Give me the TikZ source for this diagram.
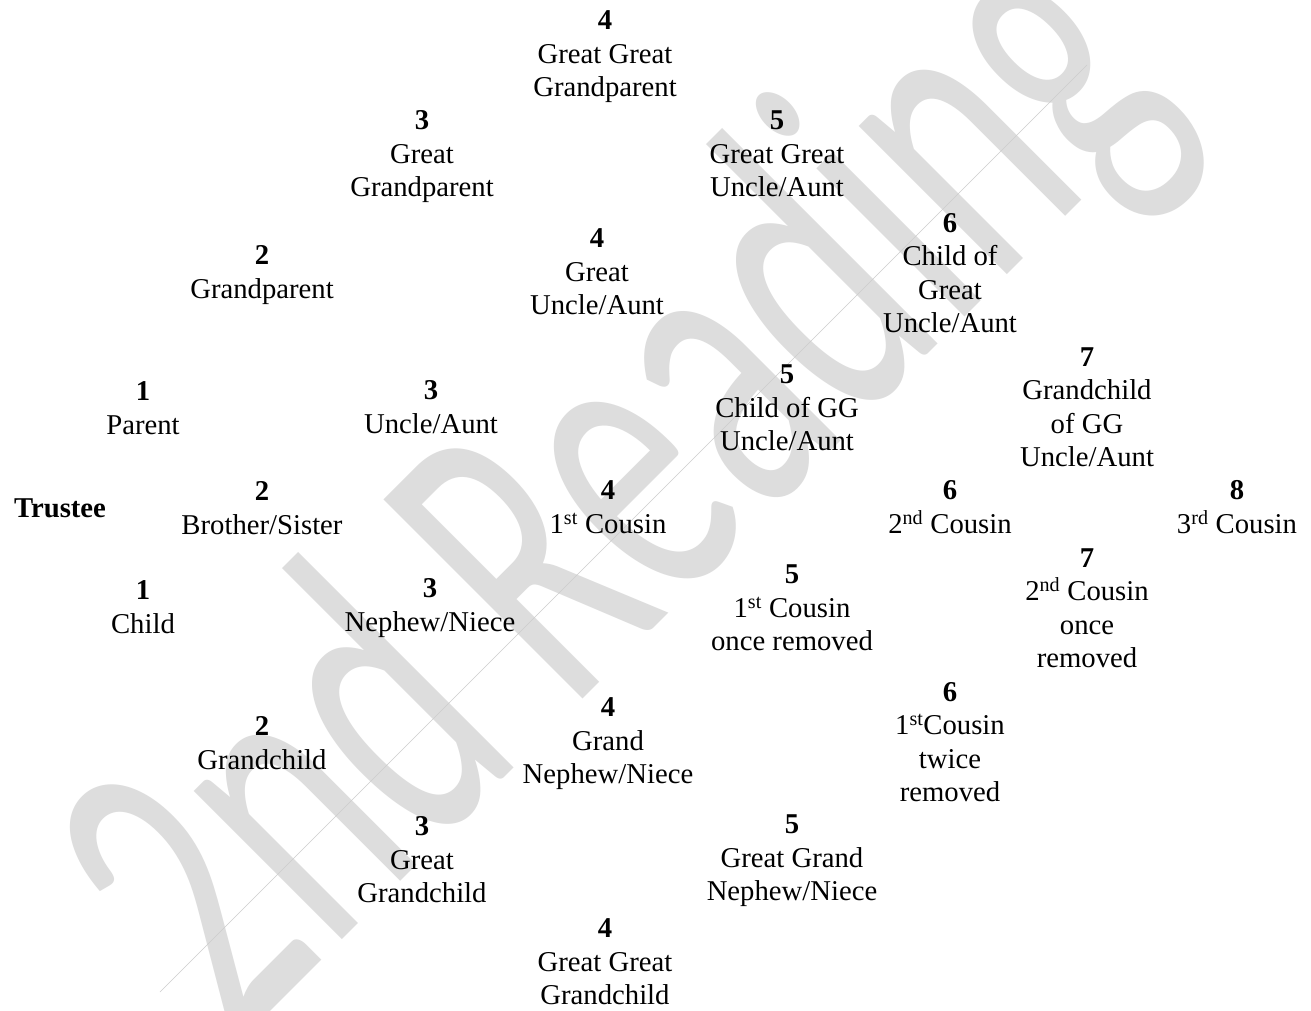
\documentclass[tikz,border=0pt]{standalone}
\usepackage{fontspec}
\setmainfont{Liberation Serif}
\newfontfamily\wmfont{Carlito}
\definecolor{wmgray}{RGB}{221,221,221}
\definecolor{wmline}{RGB}{205,205,205}
\begin{document}
\begin{tikzpicture}[x=1pt,y=-1pt,
  lbl/.style={align=center, inner sep=0pt, font=\fontsize{28.7}{33.5}\selectfont},
  wm/.style={inner sep=0pt, text=wmgray, font=\wmfont\fontsize{266}{266}\selectfont}]
\useasboundingbox (0,0) rectangle (1311,1010);
\fill[white] (0,0) rectangle (1311,1010);
% watermark
\begin{scope}
\clip (0,0) rectangle (1311,1010);
\node[wm, anchor=base, rotate=45, yscale=1.65, transform shape] (wm) at (708,574) {2nd Reading};
\coordinate (la) at (160,992);
\coordinate (lb) at (1087,65);
\draw[wmline, line width=0.5pt] (la) -- (lb);
\end{scope}
% labels
\node[lbl, font=\fontsize{28.7}{33.5}\selectfont\bfseries] (trustee) at (60,508) {Trustee};
\node[lbl] (parent) at (143,408) {\textbf{1}\\Parent};
\node[lbl] (sibling) at (262,508) {\textbf{2}\\Brother/Sister};
\node[lbl] (child) at (143,607) {\textbf{1}\\Child};
\node[lbl] (gp) at (262,275) {\textbf{2}\\Grandparent};
\node[lbl] (ggp) at (422,157) {\textbf{3}\\Great\\Grandparent};
\node[lbl] (gggp) at (605,57) {\textbf{4}\\Great Great\\Grandparent};
\node[lbl] (uncle) at (431,407) {\textbf{3}\\Uncle/Aunt};
\node[lbl] (guncle) at (597,272) {\textbf{4}\\Great\\Uncle/Aunt};
\node[lbl] (gguncle) at (777,154) {\textbf{5}\\Great Great\\Uncle/Aunt};
\node[lbl] (cgu) at (950,273) {\textbf{6}\\Child of\\Great\\Uncle/Aunt};
\node[lbl] (cggu) at (787,408) {\textbf{5}\\Child of GG\\Uncle/Aunt};
\node[lbl] (gcggu) at (1087,407) {\textbf{7}\\Grandchild\\of GG\\Uncle/Aunt};
\node[lbl] (cousin1) at (608,507) {\textbf{4}\\1\textsuperscript{st} Cousin};
\node[lbl] (cousin2) at (950,507) {\textbf{6}\\2\textsuperscript{nd} Cousin};
\node[lbl] (cousin3) at (1237,507) {\textbf{8}\\3\textsuperscript{rd} Cousin};
\node[lbl] (c2once) at (1087,608) {\textbf{7}\\2\textsuperscript{nd} Cousin\\once\\removed};
\node[lbl] (c1once) at (792,608) {\textbf{5}\\1\textsuperscript{st} Cousin\\once removed};
\node[lbl] (nephew) at (430,608) {\textbf{3}\\Nephew/Niece};
\node[lbl] (gchild) at (262,743) {\textbf{2}\\Grandchild};
\node[lbl] (gnephew) at (608,744) {\textbf{4}\\Grand\\Nephew/Niece};
\node[lbl] (c1twice) at (950,742) {\textbf{6}\\1\textsuperscript{st}Cousin\\twice\\removed};
\node[lbl] (ggchild) at (422,860) {\textbf{3}\\Great\\Grandchild};
\node[lbl] (ggnephew) at (792,861) {\textbf{5}\\Great Grand\\Nephew/Niece};
\node[lbl] (gggchild) at (605,962) {\textbf{4}\\Great Great\\Grandchild};
\end{tikzpicture}
\end{document}
